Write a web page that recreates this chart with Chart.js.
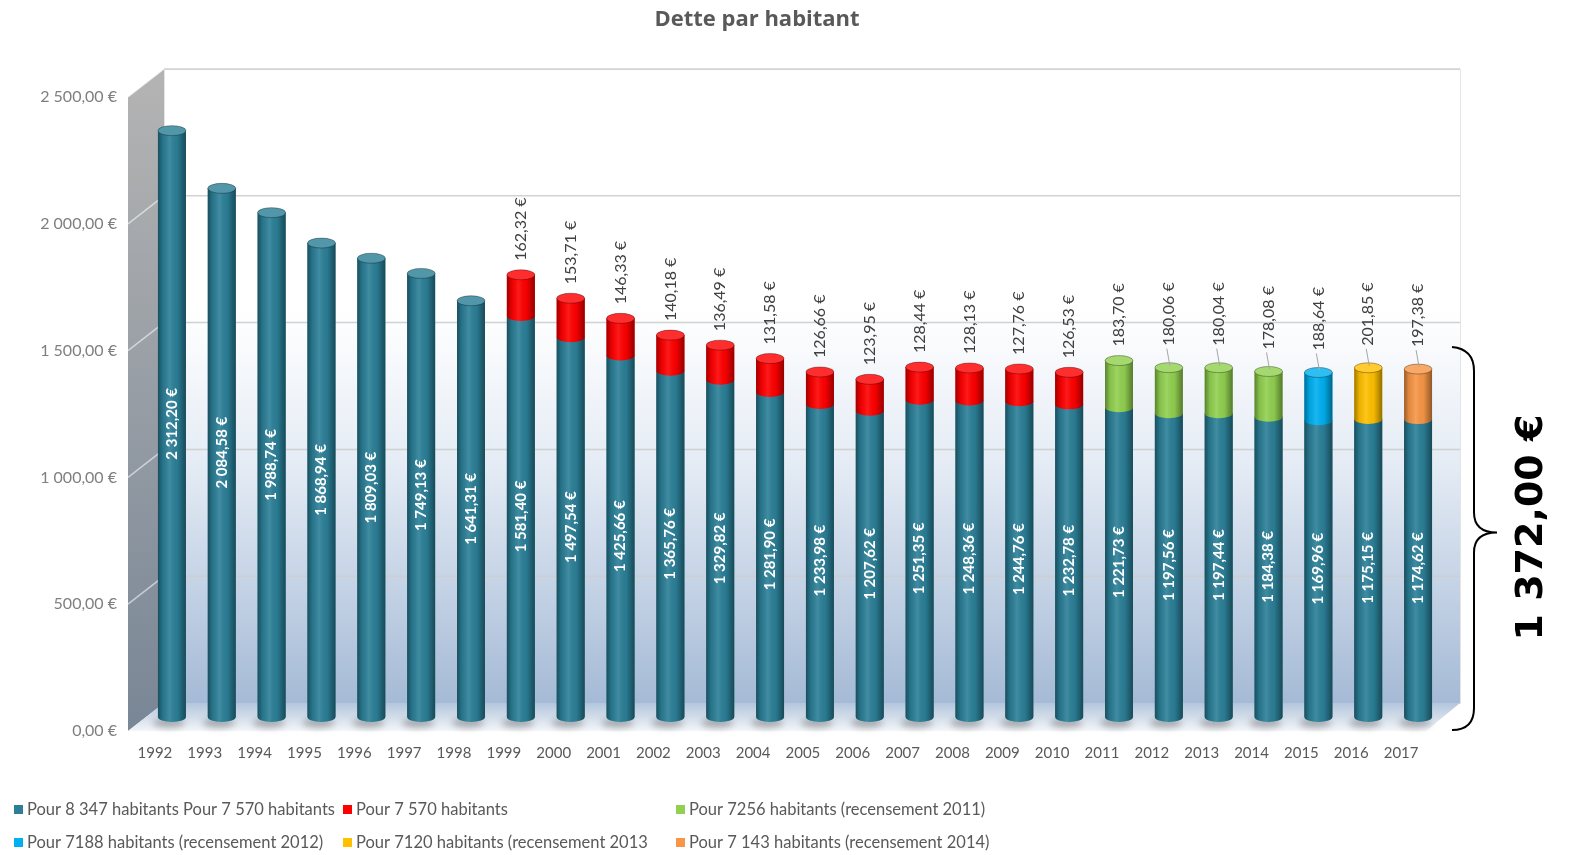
<!DOCTYPE html>
<html lang="fr">
<head>
<meta charset="utf-8">
<title>Dette par habitant</title>
<script src="https://cdn.jsdelivr.net/npm/chart.js@4.4.1/dist/chart.umd.min.js"></script>
<style>
  html, body { margin: 0; padding: 0; background: #ffffff; }
  #wrap { width: 1575px; height: 855px; position: relative; }
</style>
</head>
<body>
<div id="wrap"><canvas id="detteChart" width="1575" height="855"></canvas></div>
<script>
// Donnees
const annees = ['1992','1993','1994','1995','1996','1997','1998','1999','2000','2001','2002','2003','2004','2005','2006','2007','2008','2009','2010','2011','2012','2013','2014','2015','2016','2017'];

// partie commune (bleu canard)
const detteBase = [2312.20, 2084.58, 1988.74, 1868.94, 1809.03, 1749.13, 1641.31, 1581.40, 1497.54, 1425.66, 1365.76, 1329.82, 1281.90, 1233.98, 1207.62, 1251.35, 1248.36, 1244.76, 1232.78, 1221.73, 1197.56, 1197.44, 1184.38, 1169.96, 1175.15, 1174.62];
// complements par population
const supp7570 = [null, null, null, null, null, null, null, 162.32, 153.71, 146.33, 140.18, 136.49, 131.58, 126.66, 123.95, 128.44, 128.13, 127.76, 126.53, null, null, null, null, null, null, null];
const supp7256 = [null, null, null, null, null, null, null, null, null, null, null, null, null, null, null, null, null, null, null, 183.70, 180.06, 180.04, 178.08, null, null, null];
const supp7188 = [null, null, null, null, null, null, null, null, null, null, null, null, null, null, null, null, null, null, null, null, null, null, null, 188.64, null, null];
const supp7120 = [null, null, null, null, null, null, null, null, null, null, null, null, null, null, null, null, null, null, null, null, null, null, null, null, 201.85, null];
const supp7143 = [null, null, null, null, null, null, null, null, null, null, null, null, null, null, null, null, null, null, null, null, null, null, null, null, null, 197.38];

const libelles = [
  'Pour 8 347 habitants Pour 7 570 habitants',
  'Pour 7 570 habitants',
  'Pour 7256 habitants (recensement 2011)',
  'Pour 7188 habitants (recensement 2012)',
  'Pour 7120 habitants (recensement 2013',
  'Pour 7 143 habitants (recensement 2014)'
];
const couleurs = ['#2b7f97', '#ff0000', '#92d050', '#00b0f0', '#ffc000', '#f79646'];
const montantMoyen = 1372.00;

// format francais : 1 234,56 €
function fmt(v) {
  var p = Number(v).toFixed(2).split('.');
  return p[0].replace(/\B(?=(\d{3})+(?!\d))/g, ' ') + ',' + p[1] + ' €';
}

const FONT = 'Lato, "Open Sans", sans-serif';
const DX = 17, DY = 14; // profondeur 3D

// murs, sol, grille
const decor3D = {
  id: 'decor3D',
  beforeDatasetsDraw(chart) {
    const ctx = chart.ctx;
    const a = chart.chartArea;
    const y = chart.scales.y;
    const L = a.left, R = a.right, T = a.top, B = a.bottom;
    ctx.save();

    // mur du fond
    var g = ctx.createLinearGradient(0, T - DY, 0, B - DY);
    g.addColorStop(0, '#ffffff');
    g.addColorStop(0.38, '#ffffff');
    g.addColorStop(0.62, '#e5ecf5');
    g.addColorStop(1, '#a5bad6');
    ctx.fillStyle = g;
    ctx.fillRect(L + DX, T - DY, R - L, B - T);
    ctx.strokeStyle = '#e4e4e4';
    ctx.lineWidth = 1;
    ctx.strokeRect(L + DX + 0.5, T - DY + 0.5, R - L, B - T);

    // mur gauche
    g = ctx.createLinearGradient(0, T, 0, B);
    g.addColorStop(0, '#b3b3b3');
    g.addColorStop(1, '#7a8796');
    ctx.fillStyle = g;
    ctx.beginPath();
    ctx.moveTo(L - DX - 2, T + DY);
    ctx.lineTo(L + DX, T - DY);
    ctx.lineTo(L + DX, B - DY);
    ctx.lineTo(L - DX - 2, B + DY);
    ctx.closePath();
    ctx.fill();

    // sol
    g = ctx.createLinearGradient(0, B - DY, 0, B + DY);
    g.addColorStop(0, '#b3c6dd');
    g.addColorStop(0.55, '#d5dfeb');
    g.addColorStop(1, '#f4f6f9');
    ctx.fillStyle = g;
    ctx.beginPath();
    ctx.moveTo(L + DX, B - DY);
    ctx.lineTo(R + DX, B - DY);
    ctx.lineTo(R - DX, B + DY);
    ctx.lineTo(L - DX - 2, B + DY);
    ctx.closePath();
    ctx.fill();

    // lignes de quadrillage
    y.ticks.forEach(function(t) {
      if (t.value === 0) return;
      var py = y.getPixelForValue(t.value);
      ctx.strokeStyle = 'rgba(205,205,205,0.9)';
      ctx.lineWidth = 1.5;
      ctx.beginPath();
      ctx.moveTo(L + DX, py - DY);
      ctx.lineTo(R + DX, py - DY);
      ctx.stroke();
      ctx.strokeStyle = 'rgba(255,255,255,0.55)';
      ctx.beginPath();
      ctx.moveTo(L - DX - 2, py + DY);
      ctx.lineTo(L + DX, py - DY);
      ctx.stroke();
    });

    // ombres au sol
    var meta = chart.getDatasetMeta(0);
    ctx.filter = 'blur(3px)';
    ctx.fillStyle = 'rgba(60,60,60,0.35)';
    meta.data.forEach(function(bar) {
      ctx.beginPath();
      ctx.ellipse(bar.x - 3, bar.base + 6, bar.width / 2 + 2, 5, 0, 0, Math.PI * 2);
      ctx.fill();
    });
    ctx.filter = 'none';
    ctx.restore();
  },

  // cylindres et etiquettes
  afterDatasetsDraw(chart) {
    const ctx = chart.ctx;
    const n = annees.length;
    const ry = 5;
    ctx.save();
    for (var j = 0; j < n; j++) {
      var segs = [];
      chart.data.datasets.forEach(function(ds, i) {
        if (ds.data[j] !== null) segs.push({ bar: chart.getDatasetMeta(i).data[j], color: ds.backgroundColor, value: ds.data[j], idx: i });
      });
      segs.forEach(function(s, k) {
        var b = s.bar, w = b.width, x0 = b.x - w / 2;
        // corps + arc bas
        ctx.beginPath();
        ctx.moveTo(x0, b.y);
        ctx.lineTo(x0, b.base);
        ctx.ellipse(b.x, b.base, w / 2, ry, 0, Math.PI, 0, true);
        ctx.lineTo(x0 + w, b.y);
        ctx.closePath();
        ctx.fillStyle = s.color;
        ctx.fill();
        var g = ctx.createLinearGradient(x0, 0, x0 + w, 0);
        g.addColorStop(0, 'rgba(0,0,0,0.38)');
        g.addColorStop(0.18, 'rgba(0,0,0,0.08)');
        g.addColorStop(0.42, 'rgba(255,255,255,0.10)');
        g.addColorStop(0.7, 'rgba(0,0,0,0.04)');
        g.addColorStop(1, 'rgba(0,0,0,0.42)');
        ctx.fillStyle = g;
        ctx.fill();
        // couvercle
        if (k === segs.length - 1) {
          ctx.beginPath();
          ctx.ellipse(b.x, b.y, w / 2, ry, 0, 0, Math.PI * 2);
          ctx.fillStyle = s.color;
          ctx.fill();
          ctx.fillStyle = 'rgba(255,255,255,0.18)';
          ctx.fill();
          ctx.strokeStyle = 'rgba(0,0,0,0.3)';
          ctx.lineWidth = 1;
          ctx.stroke();
        }
      });

      // etiquettes
      segs.forEach(function(s, k) {
        var b = s.bar;
        ctx.save();
        if (k === 0) {
          ctx.translate(b.x, (b.y + b.base) / 2);
          ctx.rotate(-Math.PI / 2);
          ctx.font = 'bold 15px ' + FONT;
          ctx.fillStyle = '#ffffff';
          ctx.textAlign = 'center';
          ctx.textBaseline = 'middle';
          ctx.fillText(fmt(s.value), 0, 0);
        } else {
          var lift = s.idx >= 2 && j > 19 ? 22 : 14;
          if (lift > 14) {
            ctx.strokeStyle = '#a6a6a6';
            ctx.lineWidth = 1;
            ctx.beginPath();
            ctx.moveTo(b.x + 1, b.y - 2);
            ctx.lineTo(b.x - 2, b.y - lift + 3);
            ctx.stroke();
          }
          ctx.translate(b.x, b.y - lift);
          ctx.rotate(-Math.PI / 2);
          ctx.font = '16px ' + FONT;
          ctx.fillStyle = '#404040';
          ctx.textAlign = 'left';
          ctx.textBaseline = 'middle';
          ctx.fillText(fmt(s.value), 0, 0);
        }
        ctx.restore();
      });
    }
    ctx.restore();
  },

  afterDraw(chart) {
    const ctx = chart.ctx;
    const a = chart.chartArea;
    ctx.save();

    // titre
    ctx.font = 'bold 22px "Open Sans", sans-serif';
    ctx.fillStyle = '#595959';
    ctx.textAlign = 'center';
    ctx.textBaseline = 'middle';
    ctx.fillText('Dette par habitant', 757, 20);

    // accolade
    var bx = a.right + 9, top = chart.scales.y.getPixelForValue(montantMoyen) - 22, bot = a.bottom + 13;
    var mid = (top + bot) / 2 - 6;
    ctx.strokeStyle = '#000000';
    ctx.lineWidth = 2;
    ctx.beginPath();
    ctx.moveTo(bx, top);
    ctx.quadraticCurveTo(bx + 22, top + 2, bx + 22, top + 24);
    ctx.lineTo(bx + 22, mid - 20);
    ctx.quadraticCurveTo(bx + 22, mid, bx + 45, mid);
    ctx.quadraticCurveTo(bx + 22, mid, bx + 22, mid + 20);
    ctx.lineTo(bx + 22, bot - 22);
    ctx.quadraticCurveTo(bx + 22, bot, bx, bot);
    ctx.stroke();

    ctx.translate(1532, mid - 5);
    ctx.rotate(-Math.PI / 2);
    ctx.font = 'bold 38px "DejaVu Sans", sans-serif';
    ctx.fillStyle = '#000000';
    ctx.textAlign = 'center';
    ctx.textBaseline = 'middle';
    ctx.fillText(fmt(montantMoyen), 0, 0);
    ctx.restore();

    // legende en grille
    ctx.save();
    var cols = [14, 343, 676], rows = [810, 843];
    ctx.font = '16.5px ' + FONT;
    ctx.textBaseline = 'middle';
    ctx.textAlign = 'left';
    chart.data.datasets.forEach(function(ds, i) {
      var cx = cols[i % 3], cy = rows[Math.floor(i / 3)];
      ctx.fillStyle = ds.backgroundColor;
      ctx.fillRect(cx, cy - 5, 9, 9);
      ctx.fillStyle = '#595959';
      ctx.fillText(ds.label, cx + 13, cy);
    });
    ctx.restore();
  }
};

const series = [detteBase, supp7570, supp7256, supp7188, supp7120, supp7143];

new Chart(document.getElementById('detteChart'), {
  type: 'bar',
  data: {
    labels: annees,
    datasets: series.map(function(d, i) {
      return { label: libelles[i], data: d, backgroundColor: couleurs[i], borderWidth: 0 };
    })
  },
  options: {
    responsive: false,
    animation: false,
    layout: { padding: { left: 20, right: 132, top: 83, bottom: 78 } },
    datasets: { bar: { categoryPercentage: 0.8, barPercentage: 0.7 } },
    plugins: {
      legend: { display: false },
      title: { display: false },
      tooltip: { enabled: false }
    },
    scales: {
      x: {
        stacked: true,
        grid: { display: false, drawTicks: false },
        border: { display: false },
        afterFit: function(s) { s.height = 60; },
        ticks: {
          color: '#595959',
          font: { family: FONT, size: 15 },
          padding: 27,
          labelOffset: -17,
          maxRotation: 0,
          autoSkip: false
        }
      },
      y: {
        stacked: true,
        min: 0,
        max: 2500,
        grid: { display: false, drawTicks: false },
        border: { display: false },
        afterFit: function(s) { s.width = 127; },
        ticks: {
          stepSize: 500,
          color: '#7f7f7f',
          font: { family: FONT, size: 16 },
          padding: 30,
          labelOffset: 14,
          callback: function(v) { return fmt(v); }
        }
      }
    }
  },
  plugins: [decor3D]
});
</script>
</body>
</html>
